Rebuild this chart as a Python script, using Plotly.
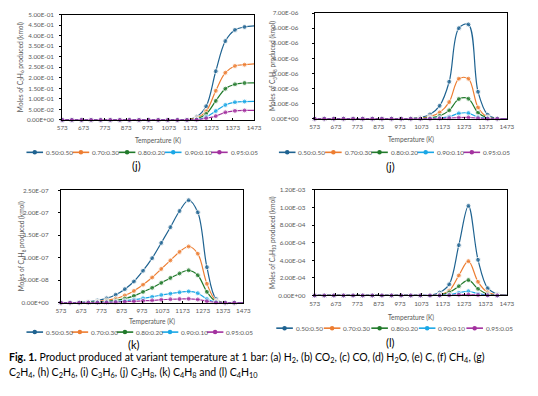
import plotly.graph_objects as go

W, H = 538, 396

# ---------------- data ----------------
temps = [573, 618, 663, 708, 753, 798, 843, 888, 933, 978, 1023,
         1068, 1113, 1158, 1203, 1248, 1293, 1338, 1383, 1428, 1473]
ratios = ["0.50:0.50", "0.70:0.30", "0.80:0.20", "0.90:0.10", "0.95:0.05"]
colors = ["#1F6391", "#ED7D31", "#217A2B", "#1AA7E6", "#A3319F"]

x_tickvals = [573, 673, 773, 873, 973, 1073, 1173, 1273, 1373, 1473]
x_ticktext = ["573", "673", "773", "873", "973", "1073", "1173", "1273", "1373", "1473"]

# (i) C3H6
c3h6_050 = [0, 0, 0, 0, 0, 0, 0, 0, 0, 0, 0, 0, 0, 0.002, 0.015, 0.065, 0.231, 0.374, 0.427, 0.441, 0.446]
c3h6_070 = [0, 0, 0, 0, 0, 0, 0, 0, 0, 0, 0, 0, 0, 0.001, 0.010, 0.041, 0.138, 0.224, 0.256, 0.262, 0.266]
c3h6_080 = [0, 0, 0, 0, 0, 0, 0, 0, 0, 0, 0, 0, 0, 0.000, 0.005, 0.028, 0.090, 0.148, 0.169, 0.175, 0.176]
c3h6_090 = [0, 0, 0, 0, 0, 0, 0, 0, 0, 0, 0, 0, 0, 0.000, 0.002, 0.014, 0.042, 0.071, 0.084, 0.087, 0.088]
c3h6_095 = [0, 0, 0, 0, 0, 0, 0, 0, 0, 0, 0, 0, 0, 0.000, 0.001, 0.008, 0.018, 0.036, 0.043, 0.045, 0.045]
c3h6_ticks = [0, 0.05, 0.10, 0.15, 0.20, 0.25, 0.30, 0.35, 0.40, 0.45, 0.50]
c3h6_ticktext = ["0.00E+00", "5.00E-02", "1.00E-01", "1.50E-01", "2.00E-01", "2.50E-01",
                 "3.00E-01", "3.50E-01", "4.00E-01", "4.50E-01", "5.00E-01"]

# (j) C3H8
c3h8_050 = [0, 0, 0, 0, 0, 0, 0, 0, 0, 0, 1e-8, 8e-8, 2.8e-7, 8.5e-7, 2.45e-6, 6.0e-6, 6.25e-6, 1.78e-6, 2.6e-7, 1e-8, 0]
c3h8_070 = [0, 0, 0, 0, 0, 0, 0, 0, 0, 0, 0, 3e-8, 1.3e-7, 4.1e-7, 1.1e-6, 2.65e-6, 2.65e-6, 7.4e-7, 9e-8, 0, 0]
c3h8_080 = [0, 0, 0, 0, 0, 0, 0, 0, 0, 0, 0, 1e-8, 5e-8, 1.8e-7, 5.5e-7, 1.3e-6, 1.32e-6, 3.9e-7, 5e-8, 0, 0]
c3h8_090 = [0, 0, 0, 0, 0, 0, 0, 0, 0, 0, 0, 0, 1e-8, 4e-8, 1.3e-7, 3.5e-7, 3.7e-7, 1e-7, 1e-8, 0, 0]
c3h8_095 = [0, 0, 0, 0, 0, 0, 0, 0, 0, 0, 0, 0, 0, 1e-8, 3e-8, 7e-8, 8e-8, 3e-8, 0, 0, 0]
c3h8_ticks = [0, 1e-6, 2e-6, 3e-6, 4e-6, 5e-6, 6e-6, 7e-6]
c3h8_ticktext = ["0.00E+00", "1.00E-06", "2.00E-06", "3.00E-06", "4.00E-06", "5.00E-06", "6.00E-06", "7.00E-06"]

# (k) C4H8
c4h8_050 = [0, 0, 5e-10, 1.5e-9, 5e-9, 9.5e-9, 1.75e-8, 3.0e-8, 4.7e-8, 7.1e-8, 9.9e-8,
            1.33e-7, 1.68e-7, 2.04e-7, 2.28e-7, 2.01e-7, 7.9e-8, 8e-9, 0, 0, 0]
c4h8_070 = [0, 0, 2e-10, 8e-10, 2.5e-9, 5e-9, 9e-9, 1.6e-8, 2.6e-8, 4.0e-8, 5.6e-8,
            7.5e-8, 9.4e-8, 1.13e-7, 1.25e-7, 1.09e-7, 4.2e-8, 4e-9, 0, 0, 0]
c4h8_080 = [0, 0, 1e-10, 5e-10, 1.5e-9, 3e-9, 5e-9, 9e-9, 1.5e-8, 2.4e-8, 3.3e-8,
            4.4e-8, 5.5e-8, 6.5e-8, 7.2e-8, 6.1e-8, 2.4e-8, 2e-9, 0, 0, 0]
c4h8_090 = [0, 0, 0, 2e-10, 5e-10, 1e-9, 2e-9, 4e-9, 6.5e-9, 9.5e-9, 1.3e-8,
            1.7e-8, 2.0e-8, 2.3e-8, 2.5e-8, 2.1e-8, 8e-9, 1e-9, 0, 0, 0]
c4h8_095 = [0, 0, 0, 1e-10, 2e-10, 5e-10, 1e-9, 2e-9, 3e-9, 4e-9, 5e-9,
            6.5e-9, 7.5e-9, 8e-9, 8.5e-9, 7e-9, 3e-9, 3e-10, 0, 0, 0]
c4h8_ticks = [0, 5e-8, 1e-7, 1.5e-7, 2e-7, 2.5e-7]
c4h8_ticktext = ["0.00E+00", "5.00E-08", "1.00E-07", "1.50E-07", "2.00E-07", "2.50E-07"]

# (l) C4H10
c4h10_050 = [0, 0, 0, 0, 0, 0, 0, 0, 0, 0, 0, 0, 2e-6, 3.3e-5, 1.26e-4, 5.72e-4, 1.019e-3, 4.05e-4, 8.2e-5, 1.5e-5, 0]
c4h10_070 = [0, 0, 0, 0, 0, 0, 0, 0, 0, 0, 0, 0, 0, 1e-5, 5.5e-5, 2.27e-4, 3.9e-4, 1.55e-4, 3.5e-5, 5e-6, 0]
c4h10_080 = [0, 0, 0, 0, 0, 0, 0, 0, 0, 0, 0, 0, 0, 5e-6, 3.5e-5, 1.05e-4, 1.75e-4, 7.5e-5, 1.5e-5, 2e-6, 0]
c4h10_090 = [0, 0, 0, 0, 0, 0, 0, 0, 0, 0, 0, 0, 0, 1e-6, 8e-6, 3.0e-5, 4.8e-5, 2.0e-5, 4e-6, 0, 0]
c4h10_095 = [0, 0, 0, 0, 0, 0, 0, 0, 0, 0, 0, 0, 0, 0, 2e-6, 8e-6, 1.0e-5, 5e-6, 1e-6, 0, 0]
c4h10_ticks = [0, 2e-4, 4e-4, 6e-4, 8e-4, 1e-3, 1.2e-3]
c4h10_ticktext = ["0.00E+00", "2.00E-04", "4.00E-04", "6.00E-04", "8.00E-04", "1.00E-03", "1.20E-03"]

panel_titles = ["Moles of C<sub>3</sub>H<sub>6</sub> produced (kmol)",
                "Moles of C<sub>3</sub>H<sub>8</sub> produced (kmol)",
                "Moles of C<sub>4</sub>H<sub>8</sub> produced (kmol)",
                "Moles of C<sub>4</sub>H<sub>10</sub> produced (kmol)"]
panel_labels = ["(j)", "(j)", "(k)", "(l)"]

panels = [
    [c3h6_050, c3h6_070, c3h6_080, c3h6_090, c3h6_095],
    [c3h8_050, c3h8_070, c3h8_080, c3h8_090, c3h8_095],
    [c4h8_050, c4h8_070, c4h8_080, c4h8_090, c4h8_095],
    [c4h10_050, c4h10_070, c4h10_080, c4h10_090, c4h10_095],
]
yticks = [(c3h6_ticks, c3h6_ticktext), (c3h8_ticks, c3h8_ticktext),
          (c4h8_ticks, c4h8_ticktext), (c4h10_ticks, c4h10_ticktext)]

# ---------------- layout geometry (pixels) ----------------
boxes = [(58.7, 255.3, 10.7, 118.0),
         (317.3, 514.3, 9.3, 116.7),
         (57.3, 244.3, 189.7, 304.0),
         (317.3, 514.3, 189.3, 296.7)]
ylab_standoff = [4, 12, 8, 5]
ytitle_x = [15.3, 274.7, 17.3, 274.0]
xtitle_y = [139.3, 137.5, 323.3, 319.0]
legend_geo = [(22.0, 47.3, 151.0), (280.7, 47.3, 151.0), (22.0, 46.2, 334.0), (278.0, 48.7, 330.0)]
label_pos = [(134.7, 164.3), (395.3, 165.7), (132.7, 346.3), (394.7, 344.3)]

GRAY = "#595959"
FONT = "Lato"


def px(x):
    return x / W


def py(y):
    return 1 - y / H


fig = go.Figure()
marker_sizes = [5] * (len(temps) - 1) + [0]

annotations = []
shapes = []
for p in range(4):
    sfx = "" if p == 0 else str(p + 1)
    for s in range(5):
        fig.add_trace(go.Scatter(
            x=temps, y=panels[p][s], name=ratios[s], mode="lines+markers",
            line=dict(color=colors[s], width=1.2, shape="spline", smoothing=1),
            marker=dict(color=colors[s], size=marker_sizes, symbol="circle"),
            xaxis="x" + sfx, yaxis="y" + sfx, showlegend=False, cliponaxis=False))
    l, r, t, b = boxes[p]
    tv, tt = yticks[p]
    fig.layout["xaxis" + sfx] = dict(
        domain=[px(l), px(r)], range=[573, 1473], anchor="y" + sfx,
        tickvals=x_tickvals, ticktext=x_ticktext,
        tickfont=dict(size=6.3, color=GRAY, family=FONT),
        ticks="inside", ticklen=2, tickcolor="#000000", ticklabelstandoff=2,
        showline=True, linecolor="#000000", linewidth=1, mirror=True,
        showgrid=False, zeroline=False, fixedrange=True)
    fig.layout["yaxis" + sfx] = dict(
        domain=[py(b), py(t)], range=[0, tv[-1]], anchor="x" + sfx,
        tickvals=tv, ticktext=tt,
        tickfont=dict(size=6.3, color=GRAY, family=FONT),
        ticks="outside", ticklen=2, tickcolor="#000000", ticklabelstandoff=ylab_standoff[p],
        showline=True, linecolor="#000000", linewidth=1, mirror=True,
        showgrid=False, zeroline=False, fixedrange=True)
    annotations.append(dict(text=panel_titles[p], x=px(ytitle_x[p]), y=py((t + b) / 2),
                            xref="paper", yref="paper", textangle=-90, showarrow=False,
                            xanchor="center", yanchor="middle",
                            font=dict(size=6.6, color=GRAY, family=FONT)))
    annotations.append(dict(text="Temperature (K)", x=px((l + r) / 2), y=py(xtitle_y[p]),
                            xref="paper", yref="paper", showarrow=False,
                            xanchor="center", yanchor="middle",
                            font=dict(size=6.6, color=GRAY, family=FONT)))
    lx, dx, ly = legend_geo[p]
    for s in range(5):
        x0 = lx + s * dx
        shapes.append(dict(type="line", xref="paper", yref="paper",
                           x0=px(x0), x1=px(x0 + 17), y0=py(ly), y1=py(ly),
                           line=dict(color=colors[s], width=1.6)))
        shapes.append(dict(type="circle", xref="paper", yref="paper",
                           x0=px(x0 + 8.5 - 2.3), x1=px(x0 + 8.5 + 2.3),
                           y0=py(ly + 2.3), y1=py(ly - 2.3),
                           fillcolor=colors[s], line=dict(color=colors[s], width=0)))
        annotations.append(dict(text=ratios[s], x=px(x0 + 18), y=py(ly),
                                xref="paper", yref="paper", showarrow=False,
                                xanchor="left", yanchor="middle",
                                font=dict(size=6.4, color=GRAY, family=FONT)))
    annotations.append(dict(text=panel_labels[p], x=px(label_pos[p][0]), y=py(label_pos[p][1]),
                            xref="paper", yref="paper", showarrow=False,
                            xanchor="center", yanchor="middle",
                            font=dict(size=11, color="#000000", family=FONT)))

caption1 = ("<b>Fig. 1.</b> Product produced at variant temperature at 1 bar: (a) H<sub>2</sub>, "
            "(b) CO<sub>2</sub>, (c) CO, (d) H<sub>2</sub>O, (e) C, (f) CH<sub>4</sub>, (g)")
caption2 = ("C<sub>2</sub>H<sub>4</sub>, (h) C<sub>2</sub>H<sub>6</sub>, (i) C<sub>3</sub>H<sub>6</sub>, "
            "(j) C<sub>3</sub>H<sub>8</sub>, (k) C<sub>4</sub>H<sub>8</sub> and (l) C<sub>4</sub>H<sub>10</sub>")
for txt, yy in [(caption1, 360), (caption2, 376)]:
    annotations.append(dict(text=txt, x=px(2), y=py(yy), xref="paper", yref="paper",
                            showarrow=False, xanchor="left", yanchor="middle",
                            font=dict(size=10.5, color="#000000", family=FONT)))

fig.update_layout(width=W, height=H, margin=dict(l=0, r=0, t=0, b=0),
                  paper_bgcolor="white", plot_bgcolor="white",
                  annotations=annotations, shapes=shapes, showlegend=False,
                  font=dict(family=FONT))

fig.write_html("out.html", config={"displayModeBar": False},
               post_script="document.body.style.margin='0';document.body.style.overflow='hidden';")
